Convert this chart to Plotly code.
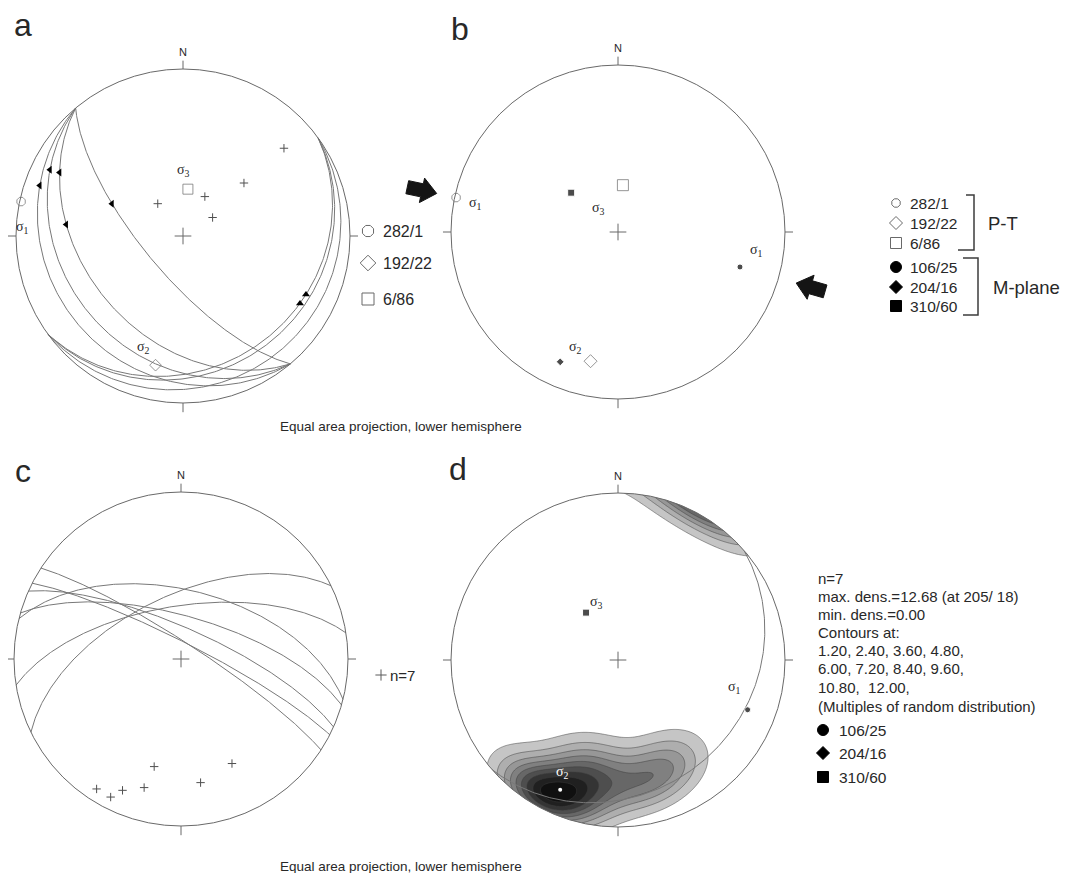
import numpy as np
import plotly.graph_objects as go

# page is 1070x881; the html body has an 8px margin, so the figure is placed at (8, 8)
OFF = 8
W, H = 1054, 865
R = 167.0
CEN = {'a': (183.0, 236.0), 'b': (618.0, 232.0), 'c': (181.0, 659.0), 'd': (618.0, 660.0)}
AX = {'a': '', 'b': '2', 'c': '3', 'd': '4'}
PX = '5'

# ---------------- data (trend / plunge, dip direction / dip) ----------------
# panel a: fault planes (dip direction, dip)
a_plane_dipdir = [230, 230, 230, 230, 144, 144, 144]
a_plane_dip = [71, 40, 28, 19, 22, 19, 11]
# slip lineations (trend, plunge) and plane they lie on
a_lin_trend = [291, 298, 276, 296, 288, 115, 120]
a_lin_plunge = [50, 19, 31, 11, 5, 22, 20]
a_lin_plane = [0, 1, 1, 2, 3, 4, 4]
# small crosses in a
a_pt_trend = [322, 29, 58, 49, 49]
a_pt_plunge = [70, 68, 73, 50, 21]

# P-T axes (legend label, plotted trend/plunge)
pt_labels = ['282/1', '192/22', '6/86']
pt_trend = [282, 192, 6]
pt_plunge = [1, 22, 67]
# M-plane axes
m_labels = ['106/25', '204/16', '310/60']
m_trend = [106, 204, 310]
m_plunge = [25, 16, 60]
# compression arrows in b (trend of arrow position)
arrow_trend = [282, 106]

# panel c: poles to planes (trend, plunge)
c_pole_trend = [213, 207, 204, 196, 194, 171, 154]
c_pole_plunge = [8, 8, 15, 21, 34, 26, 31]

# panel d: plotted axes (trend, plunge) and M-plane great circle
d_trend = [111, 204, 326]
d_plunge = [18, 16, 62]
d_plane = (139, 22)
contour_levels = [1.2, 2.4, 3.6, 4.8, 6.0, 7.2, 8.4, 9.6, 10.8, 12.0]
kappa = 25.0

d_text = ["n=7", "max. dens.=12.68 (at 205/ 18)", "min. dens.=0.00", "Contours at:",
          "1.20, 2.40, 3.60, 4.80,", "6.00, 7.20, 8.40, 9.60,", "10.80,  12.00,",
          "(Multiples of random distribution)"]


# ---------------- projection helpers ----------------
def vec(trend, plunge):
    t = np.radians(trend); p = np.radians(plunge)
    return np.array([np.cos(p) * np.sin(t), np.cos(p) * np.cos(t), np.sin(p)])


def proj(v):
    v = np.atleast_2d(np.asarray(v, float))
    v = np.where(v[:, 2:3] < 0, -v, v)
    s = 1.0 / np.sqrt(1.0 + v[:, 2])
    return v[:, 0] * s, v[:, 1] * s


def proj_tp(trend, plunge):
    return proj(np.array([vec(t, p) for t, p in zip(trend, plunge)]))


def great_circle(dipdir, dip, n=241):
    D = np.radians(dipdir); d = np.radians(dip)
    s = np.array([np.sin(D - np.pi / 2), np.cos(D - np.pi / 2), 0.0])
    dv = np.array([np.cos(d) * np.sin(D), np.cos(d) * np.cos(D), np.sin(d)])
    th = np.linspace(0, np.pi, n)
    v = np.cos(th)[:, None] * s + np.sin(th)[:, None] * dv
    return proj(v)


def pole_vec(dipdir, dip):
    return vec(dipdir + 180, 90 - dip)


fig = go.Figure()
shapes = []
ann = []
GRAY = 'rgb(105,105,105)'
LINE = 'rgb(120,120,120)'
TXT = 'rgb(40,40,40)'
SIG = dict(size=14, family='Liberation Serif', xa='center')


def tr(panel, **kw):
    kw['xaxis'] = 'x' + AX[panel]
    kw['yaxis'] = 'y' + AX[panel]
    kw.setdefault('showlegend', False)
    kw.setdefault('hoverinfo', 'skip')
    fig.add_trace(go.Scatter(**kw))


def text(x, y, s, size=14, color=TXT, family='Liberation Sans', xa='left', ya='middle'):
    ann.append(dict(x=x, y=y, xref='x' + PX, yref='y' + PX, text=s, showarrow=False,
                    xanchor=xa, yanchor=ya, font=dict(size=size, color=color, family=family)))


def pix_marker(x, y, symbol, size, color, lw=1):
    fig.add_trace(go.Scatter(x=[x], y=[y], xaxis='x' + PX, yaxis='y' + PX, mode='markers',
                             marker=dict(symbol=symbol, size=size, color=color,
                                         line=dict(color=color, width=lw)),
                             showlegend=False, hoverinfo='skip'))


# ---------------- panel d density (mask first so frame lies above) ----------------
g = np.linspace(-1, 1, 321)
X, Y = np.meshgrid(g, g)
rr = np.minimum(np.sqrt(X ** 2 + Y ** 2), 1.0)
vz = 1 - rr ** 2
hz = np.sqrt(np.clip(1 - vz ** 2, 0, None))
az = np.arctan2(X, Y)
E = hz * np.sin(az); Nn = hz * np.cos(az)
poles = np.array([vec(t, p) for t, p in zip(c_pole_trend, c_pole_plunge)])
dens = np.zeros_like(X)
for pv in poles:
    dens += np.exp(kappa * (np.abs(E * pv[0] + Nn * pv[1] + vz * pv[2]) - 1))
dens = dens / len(poles) * kappa / (1 - np.exp(-kappa))

fig.add_trace(go.Contour(x=g, y=g, z=dens, xaxis='x4', yaxis='y4', showscale=False,
                         colorscale=[[0, 'rgb(255,255,255)'], [0.02, 'rgb(255,255,255)'],
                                     [0.05, 'rgb(208,208,208)'], [0.35, 'rgb(140,140,140)'],
                                     [0.75, 'rgb(40,40,40)'], [1, 'rgb(0,0,0)']],
                         contours=dict(start=contour_levels[0], end=contour_levels[-1],
                                       size=contour_levels[1] - contour_levels[0], coloring='fill'),
                         line=dict(color='rgb(60,60,60)', width=0.5),
                         hoverinfo='skip'))
th = np.linspace(0, 2 * np.pi, 361)
circ = ' '.join('L %.4f,%.4f' % (np.cos(t), np.sin(t)) for t in th[1:])
mask = ('M -1.02,-1.02 L 1.02,-1.02 L 1.02,1.02 L -1.02,1.02 Z '
        'M 1,0 ' + circ + ' Z')
shapes.append(dict(type='path', path=mask, xref='x4', yref='y4', fillcolor='white',
                   line=dict(width=0), layer='above', fillrule='evenodd'))

# ---------------- frames for all panels ----------------
for p in 'abcd':
    xr, yr = 'x' + AX[p], 'y' + AX[p]
    shapes.append(dict(type='circle', x0=-1, x1=1, y0=-1, y1=1, xref=xr, yref=yr,
                       line=dict(color=GRAY, width=1), layer='above'))
    for (x0, y0, x1, y1) in [(0, 1, 0, 1.05), (0, -1, 0, -1.055), (1, 0, 1.048, 0), (-1, 0, -1.048, 0),
                             (-0.05, 0, 0.05, 0), (0, -0.05, 0, 0.05)]:
        shapes.append(dict(type='line', x0=x0, y0=y0, x1=x1, y1=y1, xref=xr, yref=yr,
                           line=dict(color=GRAY, width=1), layer='above'))
    cx, cy = CEN[p]
    text(cx, cy - 1.1 * R, 'N', size=11, xa='center')

# ---------------- panel a ----------------
for dd, dp in zip(a_plane_dipdir, a_plane_dip):
    x, y = great_circle(dd, dp)
    tr('a', x=x, y=y, mode='lines', line=dict(color=LINE, width=1))
lx, ly, sym = [], [], []
for t, pl, k in zip(a_lin_trend, a_lin_plunge, a_lin_plane):
    n = pole_vec(a_plane_dipdir[k], a_plane_dip[k])
    v = vec(t, pl)
    v = v - (v @ n) * n
    v /= np.linalg.norm(v)
    x, y = proj(v)
    lx.append(x[0]); ly.append(y[0])
    sym.append('triangle-left' if a_plane_dipdir[k] == 230 else 'triangle-up')
tr('a', x=lx, y=ly, mode='markers', marker=dict(symbol=sym, size=7, color='black'))
x, y = proj_tp(a_pt_trend, a_pt_plunge)
tr('a', x=x, y=y, mode='markers',
   marker=dict(symbol='cross-thin', size=6, line=dict(color='rgb(80,80,80)', width=1)))
x, y = proj_tp(pt_trend, pt_plunge)
tr('a', x=x, y=y, mode='markers',
   marker=dict(symbol=['octagon-open', 'diamond-open', 'square-open'], size=[9, 9, 10],
               color=GRAY, line=dict(width=1)))
text(183, 170, 'σ<sub>3</sub>', **SIG)
text(22, 227, 'σ<sub>1</sub>', **SIG)
text(143, 347, 'σ<sub>2</sub>', **SIG)
for (yy, s, lab, sz) in [(231, 'octagon-open', pt_labels[0], 12), (263, 'diamond-open', pt_labels[1], 12),
                         (299, 'square-open', pt_labels[2], 12)]:
    pix_marker(368, yy, s, sz, GRAY)
    text(381, yy, lab, size=16)

# ---------------- panel b ----------------
x, y = proj_tp(pt_trend, pt_plunge)
tr('b', x=x, y=y, mode='markers',
   marker=dict(symbol=['octagon-open', 'diamond-open', 'square-open'], size=[9, 10, 11],
               color=GRAY, line=dict(width=1)))
x, y = proj_tp(m_trend, m_plunge)
tr('b', x=x, y=y, mode='markers',
   marker=dict(symbol=['circle', 'diamond', 'square'], size=[6, 6, 7], color='black'))
L, hl, hw, sw = 0.18, 0.09, 0.075, 0.04
for t in arrow_trend:
    dvec = np.array([np.sin(np.radians(t)), np.cos(np.radians(t))])
    c = 1.2 * dvec
    u = -dvec
    w = np.array([-u[1], u[0]])
    loc = [(-L / 2, -sw), (L / 2 - hl, -sw), (L / 2 - hl, -hw), (L / 2, 0), (L / 2 - hl, hw),
           (L / 2 - hl, sw), (-L / 2, sw), (-L / 2, -sw)]
    pts = np.array([c + a * u + b * w for a, b in loc])
    tr('b', x=pts[:, 0], y=pts[:, 1], mode='lines', fill='toself', fillcolor='rgb(20,20,20)',
       line=dict(color='rgb(20,20,20)', width=1))
text(475, 203, 'σ<sub>1</sub>', **SIG)
text(598, 208, 'σ<sub>3</sub>', **SIG)
text(756, 250, 'σ<sub>1</sub>', **SIG)
text(575, 347, 'σ<sub>2</sub>', **SIG)
leg_b = [(203, 'octagon-open', GRAY, 9, pt_labels[0]), (223, 'diamond-open', GRAY, 10, pt_labels[1]),
         (243, 'square-open', GRAY, 11, pt_labels[2]), (267, 'circle', 'black', 11, m_labels[0]),
         (287, 'diamond', 'black', 10, m_labels[1]), (306, 'square', 'black', 11, m_labels[2])]
for yy, s, col, sz, lab in leg_b:
    pix_marker(896, yy, s, sz, col)
    text(908, yy, lab, size=15.5)
for path in ['M 966,195 L 974,195 L 974,250 L 958,250', 'M 963,258 L 978,258 L 978,315 L 963,315']:
    shapes.append(dict(type='path', path=path, xref='x' + PX, yref='y' + PX,
                       line=dict(color='rgb(60,60,60)', width=1.5)))
text(986, 223, 'P-T', size=18.5)
text(991, 287, 'M-plane', size=18.5)

# ---------------- panel c ----------------
for t, pl in zip(c_pole_trend, c_pole_plunge):
    x, y = great_circle(t + 180, 90 - pl)
    tr('c', x=x, y=y, mode='lines', line=dict(color=LINE, width=1))
x, y = proj_tp(c_pole_trend, c_pole_plunge)
tr('c', x=x, y=y, mode='markers',
   marker=dict(symbol='cross-thin', size=6, line=dict(color='rgb(80,80,80)', width=1)))
pix_marker(381, 675, 'cross-thin', 8, 'rgb(90,90,90)')
text(388, 675, 'n=7', size=15)

# ---------------- panel d ----------------
x, y = great_circle(*d_plane)
tr('d', x=x, y=y, mode='lines', line=dict(color=LINE, width=1))
x, y = proj_tp([d_trend[0], d_trend[2]], [d_plunge[0], d_plunge[2]])
tr('d', x=x, y=y, mode='markers', marker=dict(symbol=['circle', 'square'], size=[6, 7], color='black'))
x, y = proj_tp([d_trend[1]], [d_plunge[1]])
tr('d', x=x, y=y, mode='markers', marker=dict(symbol='circle', size=4, color='white'))
text(596, 602, 'σ<sub>3</sub>', **SIG)
text(734, 687, 'σ<sub>1</sub>', **SIG)
text(562, 772, 'σ<sub>2</sub>', size=14, family='Liberation Serif', color='white', xa='center')
for i, s in enumerate(d_text):
    text(816, [578, 596, 614, 632, 650, 668, 687, 706][i], s, size=15)
for yy, s, sz, lab in [(730, 'circle', 11, m_labels[0]), (753, 'diamond', 10, m_labels[1]),
                       (777, 'square', 11, m_labels[2])]:
    pix_marker(823, yy, s, sz, 'black')
    text(837, yy, lab, size=15.5)

# ---------------- general labels ----------------
text(23, 25, 'a', size=32, xa='center')
text(460, 29, 'b', size=32, xa='center')
text(23, 471, 'c', size=32, xa='center')
text(458, 469, 'd', size=32, xa='center')
text(278, 426, 'Equal area projection, lower hemisphere', size=13.5)
text(278, 866, 'Equal area projection, lower hemisphere', size=13.5)

# ---------------- axes ----------------
layout = dict(width=W, height=H, margin=dict(l=0, r=0, t=0, b=0),
              paper_bgcolor='white', plot_bgcolor='rgba(0,0,0,0)',
              shapes=shapes, annotations=ann, showlegend=False)
for p, sfx in AX.items():
    cx, cy = CEN[p]
    layout['xaxis' + sfx] = dict(domain=[0, 1], range=[(OFF - cx) / R, (OFF + W - cx) / R], visible=False,
                                 anchor='y' + sfx, fixedrange=True)
    layout['yaxis' + sfx] = dict(domain=[0, 1], range=[-(OFF + H - cy) / R, (cy - OFF) / R], visible=False,
                                 anchor='x' + sfx, fixedrange=True)
layout['xaxis' + PX] = dict(domain=[0, 1], range=[OFF, OFF + W], visible=False, anchor='y' + PX, fixedrange=True)
layout['yaxis' + PX] = dict(domain=[0, 1], range=[OFF + H, OFF], visible=False, anchor='x' + PX, fixedrange=True)
fig.update_layout(**layout)
fig.write_html('out.html')
